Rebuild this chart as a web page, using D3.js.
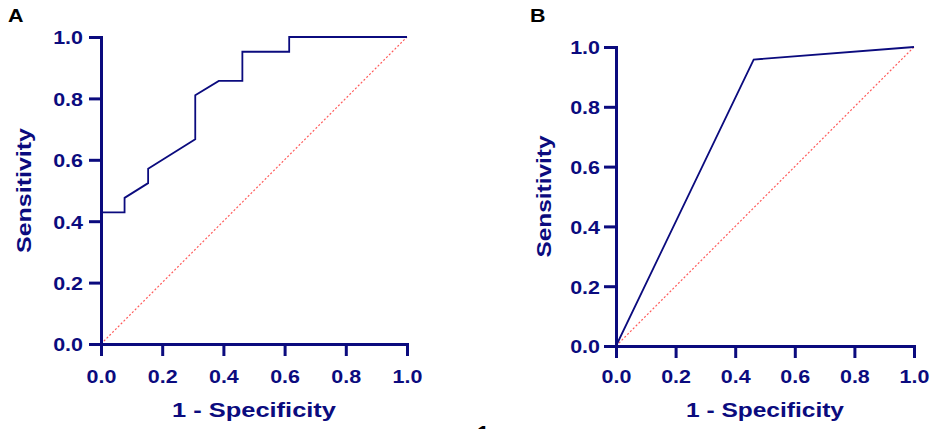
<!DOCTYPE html>
<html>
<head>
<meta charset="utf-8">
<script src="https://cdn.jsdelivr.net/npm/d3@7/dist/d3.min.js"></script>
<style>
  body { margin: 0; background: #fff; }
  svg { display: block; }
  text { font-family: "Liberation Sans", Arial, Helvetica, sans-serif; font-weight: bold; }
</style>
</head>
<body>
<svg id="chart" width="935" height="429"></svg>
<script>
// ---- data ----
const tickValues = [0, 0.2, 0.4, 0.6, 0.8, 1.0];
const tickLabels = ["0.0", "0.2", "0.4", "0.6", "0.8", "1.0"];
const rocAx = [0, 0, 0.077, 0.077, 0.154, 0.154, 0.308, 0.308, 0.385, 0.462, 0.462, 0.615, 0.615, 1];
const rocAy = [0, 0.429, 0.429, 0.476, 0.524, 0.571, 0.667, 0.810, 0.857, 0.857, 0.952, 0.952, 1, 1];
const rocBx = [0, 0.462, 1];
const rocBy = [0, 0.958, 1];
const refX = [0, 1];
const refY = [0, 1];
const xTitle = "1 - Specificity";
const yTitle = "Sensitivity";

const navy = "#0b0b7e";
const svg = d3.select("#chart");
const SX = 1.13;

function panel(cfg) {
  const x = d3.scaleLinear().domain([0, 1]).range([cfg.x0, cfg.x1]);
  const y = d3.scaleLinear().domain([0, 1]).range([cfg.y0, cfg.y1]);
  const g = svg.append("g");

  // reference diagonal
  g.append("path")
    .datum(refX.map((v, i) => [v, refY[i]]))
    .attr("d", d3.line().x(d => x(d[0])).y(d => y(d[1])))
    .attr("fill", "none").attr("stroke", "#ff5a5a")
    .attr("stroke-width", 1.2).attr("stroke-dasharray", "2,2");

  // ROC curve
  g.append("path")
    .datum(cfg.xs.map((v, i) => [v, cfg.ys[i]]))
    .attr("d", d3.line().x(d => x(d[0])).y(d => y(d[1])))
    .attr("fill", "none").attr("stroke", navy)
    .attr("stroke-width", 1.8).attr("stroke-linejoin", "miter");

  const fmt = d => tickLabels[tickValues.indexOf(d)];

  const ax = g.append("g").attr("transform", `translate(0,${cfg.y0})`)
    .call(d3.axisBottom(x).tickValues(tickValues).tickFormat(fmt).tickSize(12).tickSizeOuter(0));
  const ay = g.append("g").attr("transform", `translate(${cfg.x0},0)`)
    .call(d3.axisLeft(y).tickValues(tickValues).tickFormat(fmt).tickSize(12).tickSizeOuter(0));

  [ax, ay].forEach(a => {
    a.select(".domain").attr("stroke", navy).attr("stroke-width", 3).attr("stroke-linecap", "square");
    a.selectAll(".tick line").attr("stroke", navy).attr("stroke-width", 3);
    a.selectAll("text").attr("fill", navy).attr("font-size", 19).attr("font-family", null);
  });
  ax.selectAll("text").attr("dy", null).attr("y", 383 - cfg.y0)
    .attr("transform", `scale(${SX},1)`);
  ay.selectAll("text").attr("dy", "0.36em").attr("x", -cfg.lab / SX)
    .attr("transform", `scale(${SX},1)`);

  // axis titles
  g.append("text").attr("x", (cfg.x0 + cfg.x1) / 2).attr("y", 417)
    .attr("text-anchor", "middle").attr("font-size", 21).attr("fill", navy)
    .attr("textLength", cfg.xtl).attr("lengthAdjust", "spacingAndGlyphs")
    .text(xTitle);
  g.append("text")
    .attr("transform", `translate(${cfg.ytx},${(cfg.y0 + cfg.y1) / 2}) rotate(-90)`)
    .attr("text-anchor", "middle").attr("font-size", 21).attr("fill", navy)
    .attr("textLength", cfg.ytl).attr("lengthAdjust", "spacingAndGlyphs")
    .text(yTitle);

  // panel letter
  g.append("text").attr("x", cfg.lx).attr("y", 22)
    .attr("font-size", 19).attr("fill", "#000")
    .attr("transform", `scale(${SX},1)`).attr("x", cfg.lx / SX)
    .text(cfg.letter);
}

panel({ x0: 101, x1: 407, y0: 344, y1: 37, xs: rocAx, ys: rocAy, lab: 18,
        xtl: 164, ytl: 125, ytx: 30.5, lx: 8, letter: "A" });
panel({ x0: 616, x1: 914, y0: 346, y1: 47, xs: rocBx, ys: rocBy, lab: 16,
        xtl: 158, ytl: 122, ytx: 550.5, lx: 530, letter: "B" });

// clipped footnote glyph at the bottom edge
svg.append("text").attr("x", 483).attr("y", 441).attr("text-anchor", "middle")
  .attr("font-size", 22).attr("fill", "#000").text("1");
</script>
</body>
</html>
